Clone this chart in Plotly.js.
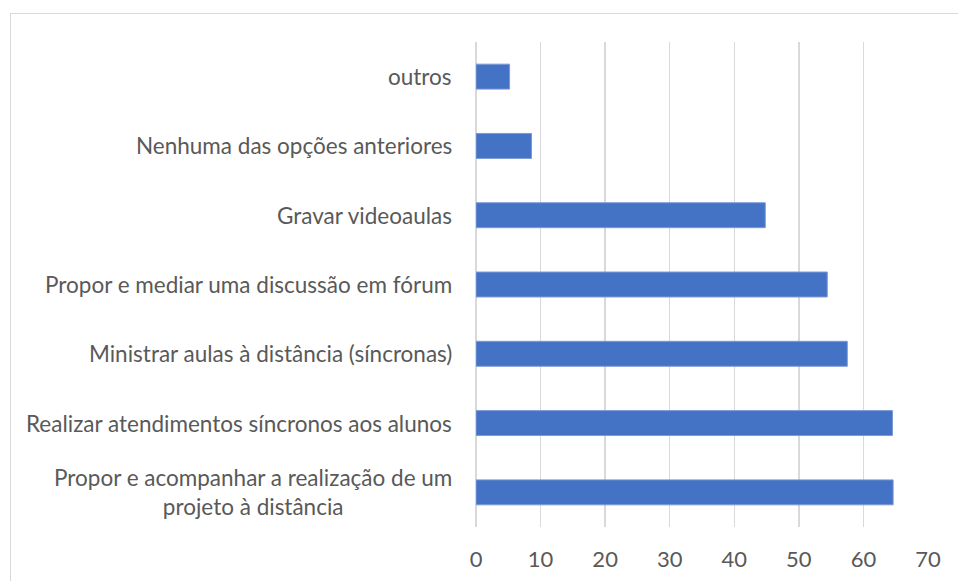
<!DOCTYPE html>
<html><head><meta charset="utf-8">
<script src="https://cdn.plot.ly/plotly-3.0.1.min.js"></script>
<style>
html,body{margin:0;padding:0;background:#fff;}
#frame{position:absolute;left:10px;top:13px;width:1000px;height:600px;border:1px solid #d9d9d9;box-sizing:border-box;}
#chart{position:absolute;left:0;top:0;width:958px;height:581px;}
</style></head>
<body>
<div id="frame"></div>
<div id="chart"></div>
<script>
const categories = [
  "outros",
  "Nenhuma das opções anteriores",
  "Gravar videoaulas",
  "Propor e mediar uma discussão em fórum",
  "Ministrar aulas à distância (síncronas)",
  "Realizar atendimentos síncronos aos alunos",
  "Propor e acompanhar a realização de um<br>projeto à distância"
];
const values = [5.2, 8.6, 44.8, 54.4, 57.5, 64.5, 64.6];
const xTicks = [0, 10, 20, 30, 40, 50, 60, 70];

const font = "Lato, 'Open Sans', sans-serif";
const trace = {
  type: 'bar', orientation: 'h',
  x: values, y: categories,
  width: 0.36,
  marker: {color: '#4472C4', line: {color: '#7b9ad6', width: 1}},
  hoverinfo: 'none'
};
const annotations = categories.map(c => ({
  xref: 'paper', yref: 'y', x: 0, y: c, xanchor: 'right', yanchor: 'middle',
  xshift: -22, text: c, showarrow: false, align: 'center',
  font: {family: font, size: 22.5, color: '#595959'}
}));
const layout = {
  width: 958, height: 581,
  margin: {l: 476, r: 30, t: 42, b: 54},
  paper_bgcolor: 'rgba(0,0,0,0)', plot_bgcolor: 'rgba(0,0,0,0)',
  showlegend: false,
  xaxis: {
    range: [0, 70], tickvals: xTicks, ticktext: xTicks.map(String),
    showgrid: true, gridcolor: '#d9d9d9', gridwidth: 1.5,
    zeroline: true, zerolinecolor: '#d9d9d9', zerolinewidth: 1.5,
    showline: false, ticks: '', ticklabelstandoff: 17,
    tickfont: {family: font, size: 22, color: '#595959'},
    fixedrange: true
  },
  yaxis: {
    type: 'category', categoryorder: 'array', categoryarray: categories,
    range: [6.5, -0.5], showticklabels: false, showgrid: false,
    zeroline: false, showline: false, ticks: '', fixedrange: true
  },
  annotations: annotations
};
Plotly.newPlot('chart', [trace], layout, {displayModeBar: false, staticPlot: true});
</script>
</body></html>
